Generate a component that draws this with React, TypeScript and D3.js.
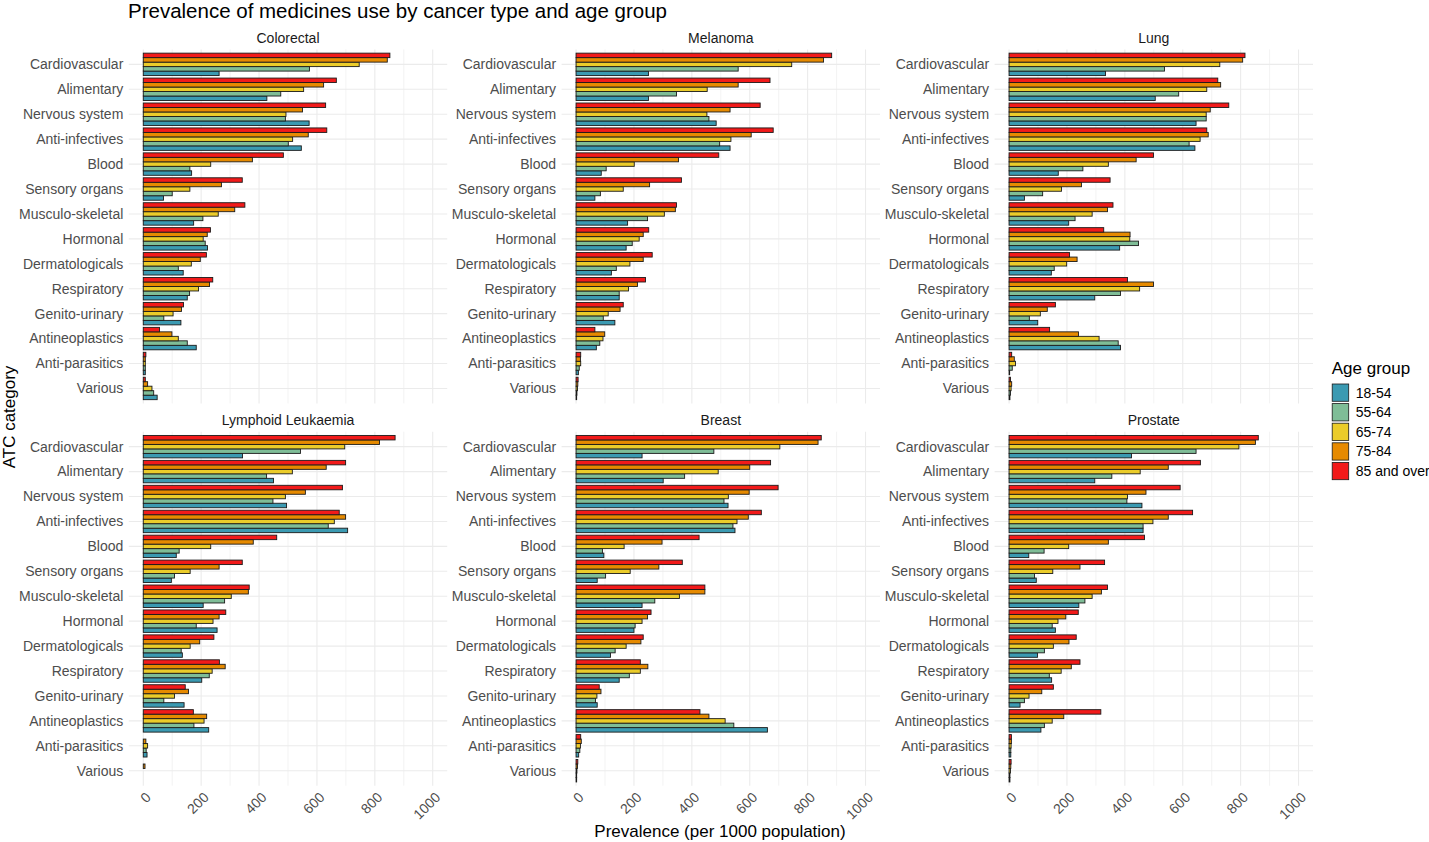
import React from 'react';
import * as d3 from 'd3';

// ATC categories, top to bottom
const categories = [
  'Cardiovascular', 'Alimentary', 'Nervous system', 'Anti-infectives', 'Blood',
  'Sensory organs', 'Musculo-skeletal', 'Hormonal', 'Dermatologicals', 'Respiratory',
  'Genito-urinary', 'Antineoplastics', 'Anti-parasitics', 'Various',
];

const ageGroups = ['18-54', '55-64', '65-74', '75-84', '85 and over'];

// each row: [18-54, 55-64, 65-74, 75-84, 85 and over], per 1000 population
const colorectal = [
  [262, 574, 746, 843, 852], [427, 475, 554, 623, 667], [573, 491, 493, 550, 630],
  [546, 501, 516, 570, 634], [167, 161, 233, 377, 484], [70, 100, 161, 270, 342],
  [174, 206, 259, 316, 351], [222, 214, 207, 221, 232], [138, 121, 166, 197, 218],
  [152, 160, 191, 229, 240], [130, 71, 103, 132, 139], [183, 152, 121, 99, 56],
  [7, 7, 7, 7, 9], [48, 36, 30, 15, 7],
];
const melanoma = [
  [250, 560, 745, 855, 883], [250, 347, 453, 560, 670], [484, 459, 452, 532, 636],
  [532, 496, 535, 605, 681], [87, 104, 201, 354, 493], [65, 84, 163, 254, 364],
  [178, 247, 305, 343, 347], [173, 194, 218, 232, 251], [122, 139, 186, 232, 263],
  [149, 149, 181, 212, 240], [134, 94, 111, 152, 163], [70, 82, 93, 99, 65],
  [8, 11, 16, 15, 16], [2, 3, 5, 6, 7],
];
const lung = [
  [333, 537, 728, 807, 815], [505, 586, 683, 731, 721], [646, 681, 681, 695, 759],
  [642, 622, 660, 688, 683], [170, 255, 343, 439, 499], [53, 116, 181, 250, 349],
  [206, 228, 287, 340, 359], [382, 447, 417, 418, 327], [146, 156, 199, 235, 209],
  [296, 385, 451, 499, 409], [99, 70, 108, 132, 160], [385, 377, 311, 240, 140],
  [2, 11, 22, 18, 9], [3, 5, 7, 9, 5],
];
const lymphoid = [
  [343, 543, 696, 816, 870], [450, 426, 515, 632, 699], [495, 448, 491, 560, 688],
  [706, 639, 660, 699, 677], [114, 124, 233, 380, 461], [97, 108, 162, 262, 342],
  [207, 281, 304, 363, 366], [255, 183, 241, 262, 285], [135, 131, 162, 195, 244],
  [202, 228, 238, 283, 263], [141, 71, 108, 156, 145], [226, 175, 210, 219, 173],
  [13, 10, 15, 9, 0], [0, 0, 0, 6, 0],
];
const breast = [
  [228, 476, 704, 836, 847], [301, 375, 491, 600, 672], [525, 511, 526, 598, 698],
  [549, 542, 556, 595, 640], [96, 91, 166, 297, 425], [73, 102, 187, 286, 367],
  [228, 272, 357, 445, 445], [200, 204, 228, 247, 259], [119, 135, 173, 224, 232],
  [149, 184, 222, 248, 222], [73, 67, 72, 86, 80], [661, 545, 515, 459, 428],
  [9, 13, 15, 18, 16], [2, 2, 3, 5, 6],
];
const prostate = [
  [423, 646, 794, 851, 861], [296, 355, 453, 550, 661], [459, 407, 409, 473, 591],
  [463, 463, 497, 550, 634], [68, 121, 206, 343, 468], [94, 88, 151, 245, 330],
  [241, 262, 287, 319, 340], [160, 149, 169, 196, 239], [98, 122, 153, 207, 232],
  [147, 139, 180, 215, 245], [38, 53, 69, 113, 153], [110, 122, 149, 189, 317],
  [6, 6, 7, 8, 8], [3, 3, 5, 6, 7],
];

const cancerTypes = ['Colorectal', 'Melanoma', 'Lung', 'Lymphoid Leukaemia', 'Breast', 'Prostate'];
const cancerData = [colorectal, melanoma, lung, lymphoid, breast, prostate];

const xTicks = [0, 200, 400, 600, 800, 1000];
const xMinor = [100, 300, 500, 700, 900];

const COLORS = ['#3B9AB2', '#7FBD97', '#EBCC2A', '#E68A00', '#F21A1A'];

const FONT = '"Liberation Sans", Arial, Helvetica, sans-serif';

const W = 1429;
const H = 842;
const panelW = 318.4;
const panelH = 354;
const panelLefts = [128.8, 561.6, 994.6];
const panelTops = [49.4, 431.7];

function Panel({ title, rows, left, top }: { title: string; rows: number[][]; left: number; top: number }) {
  const x = d3.scaleLinear().domain([-50, 1050]).range([left, left + panelW]);
  const y = d3.scaleBand<string>().domain(categories).range([top, top + panelH]).paddingInner(0).paddingOuter(0.1);
  const step = y.bandwidth();
  const inner = d3.scaleBand<string>()
    .domain([...ageGroups].reverse())
    .range([0.05 * step, 0.95 * step])
    .padding(0);

  return (
    <g>
      {xMinor.map(t => (
        <line key={'mi' + t} x1={x(t)} x2={x(t)} y1={top} y2={top + panelH} stroke="#EBEBEB" strokeWidth={0.6} />
      ))}
      {xTicks.map(t => (
        <line key={'ma' + t} x1={x(t)} x2={x(t)} y1={top} y2={top + panelH} stroke="#EBEBEB" strokeWidth={1.1} />
      ))}
      {categories.map(c => (
        <line key={'h' + c} x1={left} x2={left + panelW} y1={y(c)! + step / 2} y2={y(c)! + step / 2} stroke="#EBEBEB" strokeWidth={1.1} />
      ))}
      {categories.map((c, ci) =>
        ageGroups.map((g, gi) => {
          const v = rows[ci][gi];
          if (!v) return null;
          return (
            <rect
              key={c + g}
              x={x(0)}
              y={y(c)! + inner(g)!}
              width={x(v) - x(0)}
              height={inner.bandwidth()}
              fill={COLORS[gi]}
              stroke="#1a1a1a"
              strokeWidth={0.9}
            />
          );
        })
      )}
      {categories.map(c => (
        <text key={'l' + c} x={left - 5.5} y={y(c)! + step / 2} dy="0.35em" textAnchor="end" fontSize={14} fill="#4D4D4D">
          {c}
        </text>
      ))}
      <text x={left + panelW / 2} y={top - 6.5} textAnchor="middle" fontSize={14} fill="#1A1A1A">
        {title}
      </text>
    </g>
  );
}

export default function App() {
  const bottomTop = panelTops[1] + panelH;
  return (
    <svg width={W} height={H} style={{ position: 'absolute', left: 0, top: 0, background: '#fff' }} fontFamily={FONT}>
      <rect width={W} height={H} fill="#fff" />
      <text x={128} y={18} fontSize={20.5} fill="#000">
        Prevalence of medicines use by cancer type and age group
      </text>
      {cancerTypes.map((name, i) => (
        <Panel key={name} title={name} rows={cancerData[i]} left={panelLefts[i % 3]} top={panelTops[Math.floor(i / 3)]} />
      ))}
      {panelLefts.map((left, pi) => {
        const x = d3.scaleLinear().domain([-50, 1050]).range([left, left + panelW]);
        return (
          <g key={'ax' + pi}>
            {xTicks.map(t => (
              <text
                key={t}
                transform={`translate(${x(t) + 5},${bottomTop + 9}) rotate(-45)`}
                textAnchor="end"
                dy="0.35em"
                fontSize={14}
                fill="#4D4D4D"
              >
                {t}
              </text>
            ))}
          </g>
        );
      })}
      <text x={720} y={837} textAnchor="middle" fontSize={17} fill="#000">
        Prevalence (per 1000 population)
      </text>
      <text transform={`translate(15,417) rotate(-90)`} textAnchor="middle" fontSize={17} fill="#000">
        ATC category
      </text>
      <g transform="translate(1331.7,0)">
        <text x={0} y={374} fontSize={17} fill="#000">Age group</text>
        {ageGroups.map((g, i) => (
          <g key={g} transform={`translate(0,${384 + i * 19.6})`}>
            <rect x={0.5} y={0} width={16.5} height={17.3} fill={COLORS[i]} stroke="#1a1a1a" strokeWidth={0.8} />
            <text x={24} y={8.7} dy="0.35em" fontSize={14} fill="#000">{g}</text>
          </g>
        ))}
      </g>
    </svg>
  );
}
